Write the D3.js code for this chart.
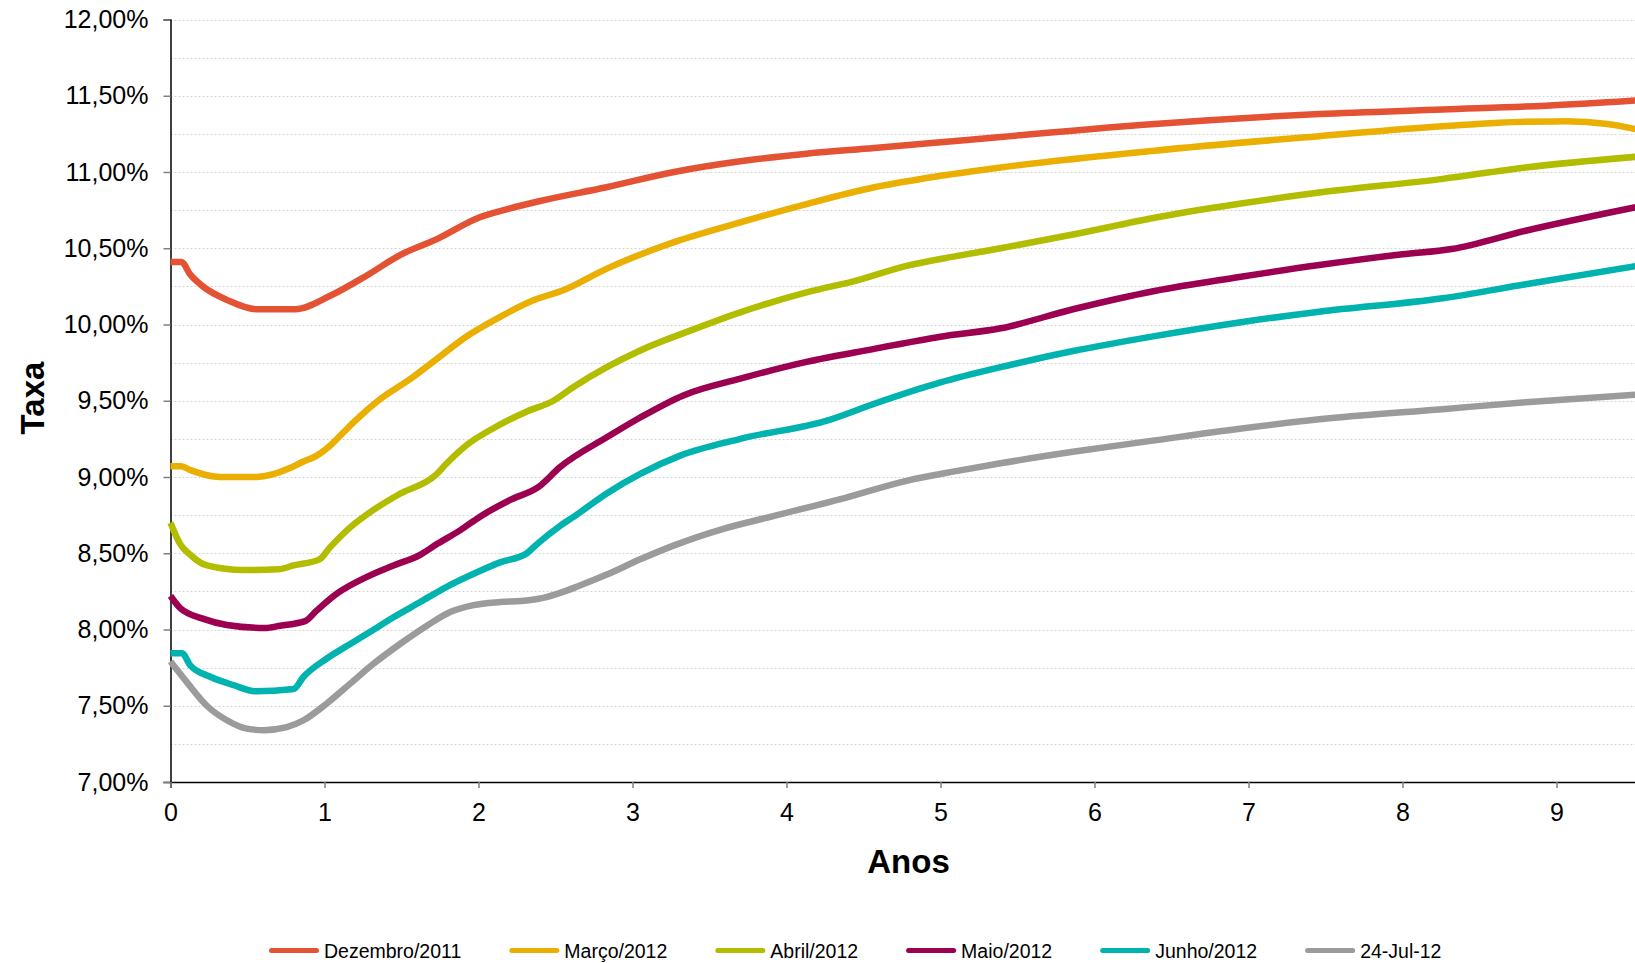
<!DOCTYPE html>
<html>
<head>
<meta charset="utf-8">
<script src="https://cdn.jsdelivr.net/npm/d3@7"></script>
<style>
  html, body { margin: 0; padding: 0; background: #fff; }
  svg { display: block; font-family: "Liberation Sans", Arial, sans-serif; }
</style>
</head>
<body>
<svg id="chart" width="1635" height="963"></svg>
<script>
// ---------------- DATA ----------------
const seriesNames = ["Dezembro/2011", "Março/2012", "Abril/2012", "Maio/2012", "Junho/2012", "24-Jul-12"];
const seriesColors = ["#E45234", "#EAAF00", "#B2BD00", "#9C0050", "#00B3AE", "#9B9B9B"];

const dezT = [0, 0.07, 0.13, 0.21, 0.37, 0.56, 0.81, 1.04, 1.28, 1.49, 1.73, 2.0, 2.2, 2.4, 2.83, 3.27, 3.7, 4.13, 4.57, 5.0, 5.39, 6.39, 7.46, 8.26, 8.93, 9.52];
const dezV = [10.41, 10.41, 10.325, 10.25, 10.16, 10.10, 10.10, 10.19, 10.325, 10.455, 10.56, 10.70, 10.76, 10.81, 10.90, 11.0, 11.07, 11.12, 11.157, 11.195, 11.23, 11.315, 11.38, 11.41, 11.435, 11.47];

const marT = [0, 0.07, 0.13, 0.32, 0.56, 0.78, 0.86, 0.95, 1.03, 1.12, 1.2, 1.36, 1.56, 1.73, 1.92, 2.14, 2.36, 2.55, 2.83, 3.27, 3.7, 4.13, 4.57, 5.0, 5.39, 6.39, 7.46, 8.26, 8.8, 9.06, 9.33, 9.52];
const marV = [9.07, 9.07, 9.045, 9.0, 9.0, 9.06, 9.10, 9.14, 9.20, 9.29, 9.37, 9.51, 9.645, 9.775, 9.92, 10.05, 10.16, 10.225, 10.365, 10.54, 10.67, 10.79, 10.90, 10.975, 11.03, 11.14, 11.235, 11.30, 11.33, 11.332, 11.315, 11.28];

const abrT = [0, 0.063, 0.128, 0.236, 0.474, 0.70, 0.80, 0.967, 1.037, 1.167, 1.297, 1.49, 1.719, 1.794, 1.924, 2.097, 2.314, 2.487, 2.617, 2.833, 3.05, 3.375, 3.7, 4.13, 4.46, 4.78, 5.11, 5.39, 5.86, 6.39, 6.93, 7.46, 8.26, 8.8, 9.52];
const abrV = [8.70, 8.56, 8.49, 8.42, 8.39, 8.395, 8.42, 8.46, 8.54, 8.67, 8.77, 8.89, 9.01, 9.09, 9.21, 9.32, 9.43, 9.50, 9.59, 9.72, 9.83, 9.96, 10.08, 10.21, 10.29, 10.385, 10.45, 10.50, 10.59, 10.70, 10.79, 10.865, 10.955, 11.03, 11.10];

const maiT = [0, 0.063, 0.214, 0.366, 0.615, 0.712, 0.874, 0.95, 1.08, 1.275, 1.448, 1.621, 1.73, 1.88, 2.01, 2.206, 2.39, 2.53, 2.833, 3.05, 3.33, 3.7, 4.13, 4.57, 5.0, 5.39, 5.86, 6.39, 6.93, 7.46, 8.0, 8.32, 8.8, 9.52];
const maiV = [8.22, 8.14, 8.07, 8.03, 8.01, 8.025, 8.055, 8.125, 8.235, 8.345, 8.42, 8.49, 8.56, 8.65, 8.74, 8.85, 8.935, 9.065, 9.26, 9.39, 9.535, 9.645, 9.755, 9.84, 9.92, 9.975, 10.10, 10.22, 10.31, 10.39, 10.46, 10.495, 10.615, 10.77];

const junT = [0, 0.075, 0.128, 0.258, 0.41, 0.55, 0.80, 0.864, 1.015, 1.167, 1.297, 1.448, 1.621, 1.794, 1.99, 2.14, 2.314, 2.38, 2.53, 2.62, 2.83, 3.05, 3.31, 3.7, 4.28, 4.57, 5.0, 5.39, 5.86, 6.39, 6.93, 7.46, 8.26, 8.8, 9.52];
const junV = [7.845, 7.845, 7.765, 7.69, 7.635, 7.595, 7.61, 7.69, 7.81, 7.905, 7.985, 8.08, 8.18, 8.28, 8.375, 8.44, 8.50, 8.56, 8.68, 8.74, 8.89, 9.02, 9.14, 9.25, 9.375, 9.48, 9.62, 9.72, 9.826, 9.924, 10.012, 10.084, 10.172, 10.264, 10.384];

const julT = [0, 0.106, 0.236, 0.366, 0.496, 0.604, 0.755, 0.864, 1.015, 1.167, 1.318, 1.49, 1.665, 1.816, 1.968, 2.14, 2.314, 2.42, 2.53, 2.65, 2.833, 3.05, 3.266, 3.59, 3.92, 4.35, 4.78, 5.11, 5.39, 5.86, 6.39, 6.93, 7.46, 8.26, 8.8, 9.52];
const julV = [7.79, 7.655, 7.50, 7.405, 7.35, 7.34, 7.36, 7.405, 7.515, 7.645, 7.775, 7.905, 8.025, 8.115, 8.16, 8.18, 8.19, 8.207, 8.24, 8.285, 8.36, 8.46, 8.55, 8.66, 8.745, 8.855, 8.975, 9.04, 9.09, 9.165, 9.24, 9.315, 9.378, 9.445, 9.49, 9.54];

const yTickValues = [7, 7.5, 8, 8.5, 9, 9.5, 10, 10.5, 11, 11.5, 12];
const yTickLabels = ["7,00%", "7,50%", "8,00%", "8,50%", "9,00%", "9,50%", "10,00%", "10,50%", "11,00%", "11,50%", "12,00%"];
const yGridValues = [7.25, 7.5, 7.75, 8, 8.25, 8.5, 8.75, 9, 9.25, 9.5, 9.75, 10, 10.25, 10.5, 10.75, 11, 11.25, 11.5, 11.75, 12];
const xTickValues = [0, 1, 2, 3, 4, 5, 6, 7, 8, 9];
const xTickLabels = ["0", "1", "2", "3", "4", "5", "6", "7", "8", "9"];
const xTitle = "Anos";
const yTitle = "Taxa";

const seriesT = [dezT, marT, abrT, maiT, junT, julT];
const seriesV = [dezV, marV, abrV, maiV, junV, julV];

// ---------------- CHART ----------------
(function () {
const svg = d3.select("#chart");
const W = 1635;
const plotLeft = 170.5, plotTop = 19.5, plotBottom = 782;
const yearPx = 154;

const x = d3.scaleLinear().domain([0, 10]).range([plotLeft, plotLeft + yearPx * 10]);
const y = d3.scaleLinear().domain([7, 12]).range([plotBottom, plotTop]);

// gridlines
svg.append("g").selectAll("line").data(yGridValues).join("line")
  .attr("x1", plotLeft).attr("x2", W)
  .attr("y1", d => Math.round(y(d)) + 0.5).attr("y2", d => Math.round(y(d)) + 0.5)
  .attr("stroke", "#d4d4d4").attr("stroke-width", 1).attr("stroke-dasharray", "2,2");

// y axis
const yAxis = d3.axisLeft(y).tickValues(yTickValues)
  .tickFormat((d, i) => yTickLabels[i]).tickSize(7).tickPadding(15);
const gy = svg.append("g").attr("transform", `translate(${plotLeft},0)`).call(yAxis);
gy.select(".domain").attr("stroke", "#000").attr("stroke-width", 1.5);
gy.selectAll(".tick line").attr("stroke", "#808080").attr("stroke-width", 1.5);
gy.selectAll(".tick text").attr("font-size", "25px").attr("fill", "#000")
  .attr("font-family", "Liberation Sans, Arial, sans-serif");

// x axis
const xAxis = d3.axisBottom(x).tickValues(xTickValues)
  .tickFormat((d, i) => xTickLabels[i]).tickSize(6).tickPadding(15);
const gx = svg.append("g").attr("transform", `translate(0,${plotBottom})`).call(xAxis);
gx.select(".domain").attr("stroke", "#000").attr("stroke-width", 1.5);
gx.selectAll(".tick line").attr("stroke", "#808080").attr("stroke-width", 1.5);
gx.selectAll(".tick text").attr("font-size", "25px").attr("fill", "#000")
  .attr("font-family", "Liberation Sans, Arial, sans-serif");

// lines
const line = d3.line().x(d => x(d[0])).y(d => y(d[1])).curve(d3.curveMonotoneX);
const lineG = svg.append("g");
seriesNames.forEach((name, i) => {
  const pts = seriesT[i].map((t, j) => [t, seriesV[i][j]]);
  lineG.append("path").datum(pts)
    .attr("d", line)
    .attr("fill", "none")
    .attr("stroke", seriesColors[i])
    .attr("stroke-width", 6.5)
    .attr("stroke-linejoin", "round")
    .attr("stroke-linecap", "butt");
});

// axis titles
svg.append("text").text(xTitle)
  .attr("x", 908.5).attr("y", 873)
  .attr("text-anchor", "middle").attr("font-size", "33px").attr("font-weight", "bold").attr("fill", "#000");
svg.append("text").text(yTitle)
  .attr("transform", "translate(43.5,398) rotate(-90)")
  .attr("text-anchor", "middle").attr("font-size", "33px").attr("font-weight", "bold").attr("fill", "#000");

// legend
const legend = svg.append("g");
let lx = 269;
const ly = 950.5;
seriesNames.forEach((name, i) => {
  legend.append("line")
    .attr("x1", lx + 2.5).attr("x2", lx + 47.5).attr("y1", ly).attr("y2", ly)
    .attr("stroke", seriesColors[i]).attr("stroke-width", 5).attr("stroke-linecap", "round");
  const t = legend.append("text").text(name)
    .attr("x", lx + 55).attr("y", ly + 7)
    .attr("font-size", "19.5px").attr("fill", "#000");
  lx = lx + 55 + t.node().getComputedTextLength() + 48;
});
})();
</script>
</body>
</html>
